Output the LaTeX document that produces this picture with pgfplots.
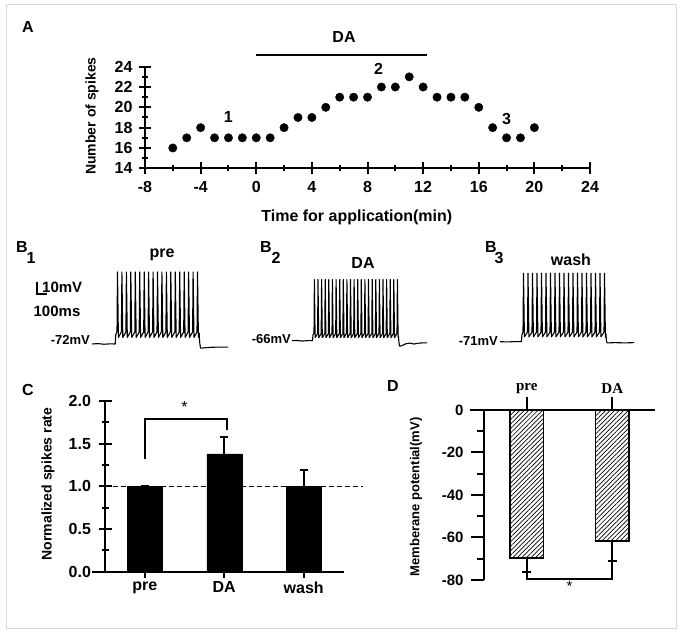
\documentclass[border=0pt]{standalone}
\usepackage{fontspec}
\setmainfont{Liberation Sans}
\newfontfamily\serifbf{Liberation Serif}
\usepackage{pgfplots}
\pgfplotsset{compat=1.18}
\usetikzlibrary{patterns.meta}
\newcommand\fs[1]{\fontsize{#1}{#1}\selectfont\bfseries}
\begin{document}
\begin{tikzpicture}
\path[fill=white] (0pt,0pt) rectangle (683pt,636pt);
\draw[black!15, line width=1pt] (6pt,7pt) rectangle (676pt,631pt);
\pgfplotsset{
  myaxis/.style={scale only axis, anchor=south west, clip=false,
    /pgf/number format/assume math mode=true,
    tick align=outside, every tick/.style={black, line width=2pt}},
  noarrows/.style={axis line style={line width=2.2pt, -},
    x axis line style={-}, y axis line style={-}},
  trace/.style={scale only axis, anchor=south west, clip=false, hide axis, ymin=-80, ymax=-10, height=84pt},
}
% ---------------- Panel A
\node[font=\fs{16}] at (28pt,609pt) {A};
\node[font=\fs{16}] at (344pt,599pt) {DA};
\begin{axis}[myaxis, at={(145pt,467.7pt)}, width=445pt, height=101.6pt,
  xmin=-8, xmax=24, ymin=14, ymax=24, axis lines=left, noarrows,
  xtick={-8,-4,...,24}, ytick={14,16,...,24}, minor x tick num=1, minor y tick num=1,
  major tick length=12pt, minor tick length=6pt,
  xticklabel style={font=\fs{16}, yshift=-4pt},
  yticklabel style={font=\fs{16}, xshift=-3pt},
  xlabel={Time for application(min)}, xlabel style={font=\fs{16}, at={(axis description cs:0.476,-0.48)}, anchor=center},
  ylabel={Number of spikes}, ylabel style={font=\fs{14}, at={(axis description cs:-0.119,0.515)}, anchor=center}]
\addplot[only marks, mark=*, mark size=4.2pt, black] coordinates {
(-6,16) (-5,17) (-4,18) (-3,17) (-2,17) (-1,17) (0,17) (1,17) (2,18) (3,19) (4,19) (5,20) (6,21) (7,21) (8,21)
(9,22) (10,22) (11,23) (12,22) (13,21) (14,21) (15,21) (16,20) (17,18) (18,17) (19,17) (20,18)};
\addplot[black, line width=2.2pt] coordinates {(0,25.14) (12.3,25.14)};
\node[font=\fs{16}] at (axis cs:-2,19.05) {1};
\node[font=\fs{16}] at (axis cs:8.8,23.8) {2};
\node[font=\fs{16}] at (axis cs:18,18.9) {3};
\end{axis}
% ---------------- Panel B
\node[font=\fs{16}] at (22pt,388.5pt) {B}; \node[font=\fs{16}] at (31pt,378pt) {1};
\node[font=\fs{16}] at (266pt,388.5pt) {B}; \node[font=\fs{16}] at (276pt,378pt) {2};
\node[font=\fs{16}] at (491pt,388.5pt) {B}; \node[font=\fs{16}] at (499pt,378pt) {3};
\node[font=\fs{16}] at (162pt,381pt) {pre};
\node[font=\fs{16}] at (363pt,373pt) {DA};
\node[font=\fs{16}] at (571pt,376pt) {wash};
\draw[line width=1.8pt] (37pt,354pt) -- (37pt,342pt) -- (47pt,342pt);
\node[font=\fs{15}, anchor=west, inner sep=0pt] at (42pt,349pt) {10mV};
\node[font=\fs{15}] at (57pt,325pt) {100ms};
\node[font=\fs{13}, anchor=east, inner sep=1pt] at (91pt,296pt) {-72mV};
\node[font=\fs{13}, anchor=east, inner sep=1pt] at (292pt,297pt) {-66mV};
\node[font=\fs{13}, anchor=east, inner sep=1pt] at (499pt,295pt) {-71mV};
\begin{axis}[trace, at={(92pt,282.4pt)}, width=136pt, xmin=0, xmax=1360]
\addplot[black, line width=1.1pt, line join=round] coordinates {
(0,-72) (60,-71.7) (120,-72.2) (180,-71.9) (232,-72) (238,-64)
(250,-62) (255,-12) (264,-66.5) (294,-62) (299,-12) (308,-66.5) (339,-62) (344,-12) (353,-66.5)
(383,-62) (388,-12) (397,-66.5) (428,-62) (433,-12) (442,-66.5) (472,-62) (477,-12) (486,-66.5)
(517,-62) (522,-12) (531,-66.5) (561,-62) (566,-12) (575,-66.5) (606,-62) (611,-12) (620,-66.5)
(650,-62) (655,-12) (664,-66.5) (694,-62) (699,-12) (708,-66.5) (739,-62) (744,-12) (753,-66.5)
(783,-62) (788,-12) (797,-66.5) (828,-62) (833,-12) (842,-66.5) (872,-62) (877,-12) (886,-66.5)
(917,-62) (922,-12) (931,-66.5) (961,-62) (966,-12) (975,-66.5) (1006,-62) (1011,-12) (1020,-66.5)
(1050,-62) (1055,-12) (1064,-66.5)
(1072,-63) (1076,-70) (1085,-75.5) (1110,-75.3) (1180,-74.8) (1250,-74.6) (1360,-74.6)};
\end{axis}
\begin{axis}[trace, at={(292pt,278.5pt)}, width=135pt, xmin=0, xmax=1350]
\addplot[black, line width=1.1pt, line join=round] coordinates {
(0,-66) (50,-65.8) (100,-66.3) (150,-66) (205,-65.9) (210,-61)
(220,-60) (224,-15) (231,-63.5) (256,-60) (260,-15) (267,-63.5) (292,-60) (296,-15) (303,-63.5)
(328,-60) (332,-15) (339,-63.5) (364,-60) (368,-15) (375,-63.5) (400,-60) (404,-15) (411,-63.5)
(437,-60) (441,-15) (448,-63.5) (473,-60) (477,-15) (484,-63.5) (509,-60) (513,-15) (520,-63.5)
(545,-60) (549,-15) (556,-63.5) (581,-60) (585,-15) (592,-63.5) (617,-60) (621,-15) (628,-63.5)
(653,-60) (657,-15) (664,-63.5) (689,-60) (693,-15) (700,-63.5) (725,-60) (729,-15) (736,-63.5)
(761,-60) (765,-15) (772,-63.5) (798,-60) (802,-15) (809,-63.5) (834,-60) (838,-15) (845,-63.5)
(870,-60) (874,-15) (881,-63.5) (906,-60) (910,-15) (917,-63.5) (942,-60) (946,-15) (953,-63.5)
(978,-60) (982,-15) (989,-63.5) (1014,-60) (1018,-15) (1025,-63.5) (1050,-60) (1054,-15) (1061,-63.5)
(1064,-62) (1068,-66) (1075,-70.5) (1100,-70.2) (1140,-68.5) (1180,-68) (1220,-68.8) (1270,-68) (1320,-67.8) (1350,-67.8)};
\end{axis}
\begin{axis}[trace, at={(500pt,283.5pt)}, width=134pt, xmin=0, xmax=1340]
\addplot[black, line width=1.1pt, line join=round] coordinates {
(0,-71) (80,-71.2) (150,-70.9) (214,-71) (220,-65)
(230,-63) (235,-14) (244,-67) (275,-63) (280,-14) (289,-67) (320,-63) (325,-14) (334,-67)
(365,-63) (370,-14) (379,-67) (410,-63) (415,-14) (424,-67) (455,-63) (460,-14) (469,-67)
(500,-63) (505,-14) (514,-67) (545,-63) (550,-14) (559,-67) (590,-63) (595,-14) (604,-67)
(635,-63) (640,-14) (649,-67) (680,-63) (685,-14) (694,-67) (725,-63) (730,-14) (739,-67)
(770,-63) (775,-14) (784,-67) (815,-63) (820,-14) (829,-67) (860,-63) (865,-14) (874,-67)
(905,-63) (910,-14) (919,-67) (950,-63) (955,-14) (964,-67) (995,-63) (1000,-14) (1009,-67)
(1040,-63) (1045,-14) (1054,-67)
(1060,-64.5) (1064,-70) (1070,-72) (1150,-71.8) (1250,-72) (1340,-71.8)};
\end{axis}
% ---------------- Panel C
\node[font=\fs{16}] at (28pt,246pt) {C};
\begin{axis}[myaxis, at={(105pt,64.3pt)}, width=238.5pt, height=170.7pt,
  xmin=-0.5, xmax=2.5, ymin=0, ymax=2, axis lines=left, noarrows,
  xtick={0,1,2}, xticklabels={pre,DA,wash}, ytick={0,0.5,1,1.5,2}, minor y tick num=1,
  major tick length=13pt, minor tick length=7pt,
  xticklabel style={font=\fs{16}},
  yticklabel style={font=\fs{16}, xshift=-4pt, /pgf/number format/.cd, fixed, fixed zerofill, precision=1},
  ylabel={Normalized spikes rate}, ylabel style={font=\fs{14}, at={(axis description cs:-0.239,0.514)}, anchor=center}]
\draw[line width=2.2pt] (rel axis cs:0,0) -- ++(-13pt,0pt);
\addplot[black, line width=1pt, dash pattern=on 5pt off 3pt] coordinates {(-0.5,1) (2.75,1)};
\addplot[ybar, bar width=35pt, fill=black, draw=black,
  error bars/.cd, y dir=plus, y explicit,
  error bar style={line width=2pt, black},
  error mark options={rotate=90, mark size=4pt, line width=2pt, black}]
  coordinates {(0,1.0) +- (0,0) (1,1.38) +- (0,0.2) (2,1.0) +- (0,0.19)};
\addplot[black, line width=2pt] coordinates {(0,1.32) (0,1.79) (1.03,1.79) (1.03,1.66)};
\node[font=\fontsize{16}{16}\selectfont] at (axis cs:0.5,1.93) {*};
\end{axis}
% ---------------- Panel D
\node[font=\fs{16}] at (393pt,250pt) {D};
\begin{axis}[myaxis, at={(484pt,56pt)}, width=171pt, height=170pt,
  xmin=-0.5, xmax=1.5, ymin=-80, ymax=0, axis x line*=top, axis y line*=left, noarrows,
  xtick={0,1}, xticklabels={pre,DA}, xticklabel pos=upper,
  ytick={-80,-60,...,0}, minor y tick num=1,
  major tick length=13pt, minor tick length=7pt,
  xticklabel style={font=\serifbf\fs{15}},
  yticklabel style={font=\fs{15}, xshift=-4pt},
  ylabel={Memberane potential(mV)}, ylabel style={font=\fs{13}, at={(axis description cs:-0.398,0.488)}, anchor=center}]
\draw[line width=2.2pt] (rel axis cs:0,1) -- ++(-14pt,0pt);
\addplot[ybar, bar width=33.5pt, draw=black, line width=1.8pt,
  pattern={Lines[angle=45,distance=3.2pt,line width=0.7pt]},
  error bars/.cd, y dir=minus, y explicit,
  error bar style={line width=1.8pt, black},
  error mark options={rotate=90, mark size=4.5pt, line width=1.8pt, black}]
  coordinates {(0,-69.5) +- (0,6.7) (1,-61.5) +- (0,9.4)};
\addplot[black, line width=1.8pt] coordinates {(0,-76.2) (0,-79.7) (1,-79.7) (1,-70.9)};
\node[font=\fontsize{15}{15}\selectfont] at (axis cs:0.5,-83) {*};
\end{axis}
\end{tikzpicture}
\end{document}
